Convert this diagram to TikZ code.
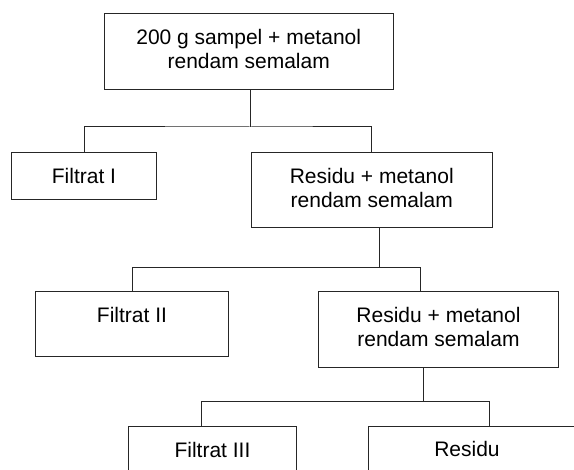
\documentclass[tikz,border=0pt]{standalone}
\usepackage{fontspec}
\setmainfont{Liberation Sans}
\begin{document}
\begin{tikzpicture}[x=1pt,y=-1pt,
  box/.style={draw=black!85, line width=1pt, anchor=north, inner sep=0pt, align=center,
    text height=31pt, font=\fontsize{21}{24.5}\selectfont},
  conn/.style={draw=black!85, line width=1pt},
  plain/.style={anchor=base, inner sep=0pt, font=\fontsize{21}{24.5}\selectfont}]
\useasboundingbox (0,0) rectangle (574,470);
\node[box, minimum width=288.6pt, text height=55pt, text depth=20.4pt] (b1) at (248.7,13.3) {200 g sampel + metanol\\rendam semalam};
\node[box, minimum width=144.6pt, text depth=16.6pt] (f1) at (84,151.7) {Filtrat I};
\node[box, minimum width=240.4pt, text height=55.5pt, text depth=20.1pt] (r1) at (371.8,151.7) {Residu + metanol\\rendam semalam};
\node[box, minimum width=193pt, text depth=33.7pt] (f2) at (132,291) {Filtrat II};
\node[box, minimum width=240.3pt, text height=55.5pt, text depth=20.2pt] (r2) at (438.5,291) {Residu + metanol\\rendam semalam};
\node[box, minimum width=168.4pt, text depth=29pt] (f3) at (212.5,425.7) {Filtrat III};
\node[box, minimum width=231.7pt, text depth=29pt] (r3) at (484,425.7) {};
\node[plain] (r3t) at (467,456.7) {Residu};
% level 1
\coordinate (j1) at (250.5,127);
\draw[conn] (b1.south -| j1) -- (j1);
\draw[conn] (f1.north) |- (j1) -| (r1.north);
% level 2
\coordinate (j2) at (379,267.3);
\coordinate (d2) at (420,267.3);
\draw[conn] (r1.south -| j2) -- (j2);
\draw[conn] (f2.north) |- (j2) -- (d2) -- (d2 |- r2.north);
% level 3
\coordinate (j3) at (423,402);
\coordinate (d3l) at (201,402);
\coordinate (d3r) at (489.3,402);
\draw[conn] (r2.south -| j3) -- (j3);
\draw[conn] (d3l |- f3.north) -- (d3l) -- (d3r) -- (d3r |- r3.north);
\end{tikzpicture}
\end{document}
